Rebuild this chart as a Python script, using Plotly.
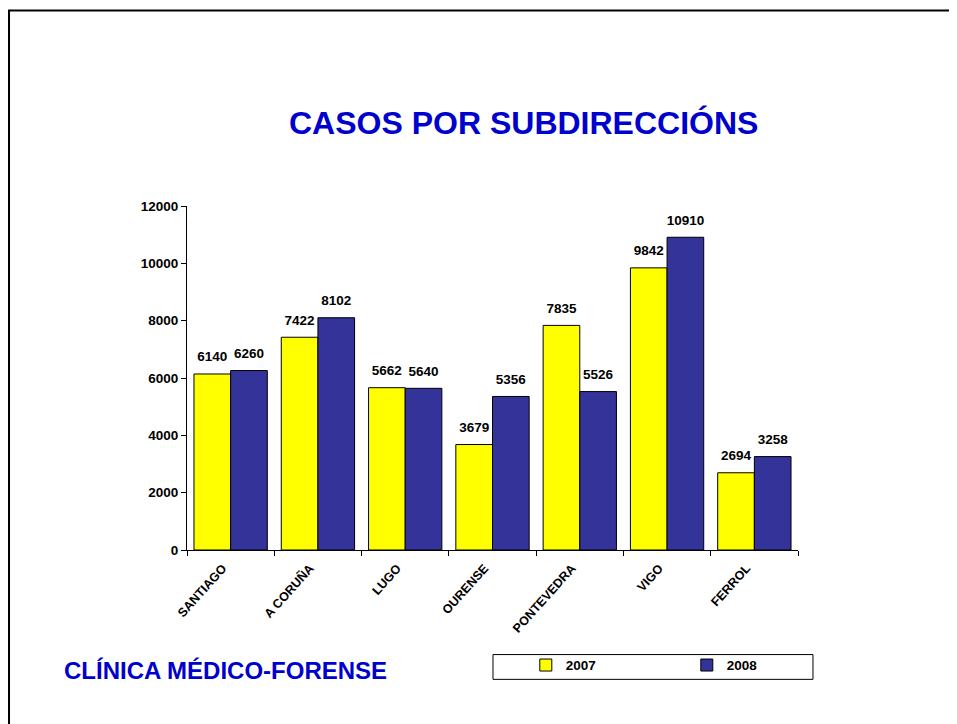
import plotly.graph_objects as go

# data
subdirecciones = ["SANTIAGO", "A CORUÑA", "LUGO", "OURENSE", "PONTEVEDRA", "VIGO", "FERROL"]
casos_2007 = [6140, 7422, 5662, 3679, 7835, 9842, 2694]
casos_2008 = [6260, 8102, 5640, 5356, 5526, 10910, 3258]
y_ticks = [0, 2000, 4000, 6000, 8000, 10000, 12000]

FONT = "Liberation Sans, Arial, sans-serif"
BLUE_TXT = "#0000CC"
BOLD13 = dict(family=FONT, size=13.5, color="black", weight="bold")

fig = go.Figure()
for name, vals, color in [("2007", casos_2007, "#FFFF00"), ("2008", casos_2008, "#333399")]:
    fig.add_trace(go.Bar(
        x=subdirecciones, y=vals, name=name, offsetgroup=name,
        marker=dict(color=color, line=dict(color="black", width=1)),
    ))
    # value labels: invisible markers push the text a bit above the bar top
    fig.add_trace(go.Scatter(
        x=subdirecciones, y=vals, offsetgroup=name, mode="markers+text",
        text=vals, textposition="top center", textfont=BOLD13,
        marker=dict(size=13, color="rgba(0,0,0,0)"),
        showlegend=False, hoverinfo="skip", cliponaxis=False,
    ))

# page body adds ~8px offset, so margins are shifted to compensate
fig.update_layout(
    width=957, height=724,
    margin=dict(l=179, r=167, t=198, b=182),
    paper_bgcolor="white", plot_bgcolor="white",
    barmode="group", bargap=0.16, bargroupgap=0,
    scattermode="group", scattergap=0.16,
    font=dict(family=FONT, color="black"),
    showlegend=True,
    legend=dict(
        orientation="h", x=0.5545, y=-0.290, xanchor="left", yanchor="top",
        borderwidth=0, bgcolor="rgba(0,0,0,0)",
        font=BOLD13, itemwidth=30, entrywidth=116,
    ),
    annotations=[
        dict(text="<b>CASOS POR SUBDIRECCIÓNS</b>", xref="paper", yref="paper",
             x=0.551, y=1.241, xanchor="center", yanchor="middle", showarrow=False,
             font=dict(family=FONT, size=32, color=BLUE_TXT)),
        dict(text="<b>CLÍNICA MÉDICO-FORENSE</b>", xref="paper", yref="paper",
             x=-0.2046, y=-0.349, xanchor="left", yanchor="middle", showarrow=False,
             font=dict(family=FONT, size=24, color=BLUE_TXT)),
    ],
    shapes=[
        # slide border (runs off the right and bottom of the window)
        dict(type="rect", xref="paper", yref="paper",
             x0=-0.2913, x1=1.5, y0=-0.7, y1=1.568,
             line=dict(color="black", width=2), layer="below"),
        # legend box
        dict(type="rect", xref="paper", yref="paper",
             x0=0.5008, x1=1.0245, y0=-0.376, y1=-0.304,
             line=dict(color="black", width=1), layer="below"),
    ],
)

fig.update_xaxes(
    showline=True, linecolor="black", linewidth=1,
    ticks="outside", ticklen=5, tickcolor="black", tickson="boundaries",
    tickangle=-48, ticklabelstandoff=5, ticklabelshift=-8,
    tickfont=dict(family=FONT, size=12.5, color="black", weight="bold"),
    showgrid=False,
)
fig.update_yaxes(
    range=[0, 12000], tickvals=y_ticks, tickformat="d",
    showline=True, linecolor="black", linewidth=1,
    ticks="outside", ticklen=5, tickcolor="black",
    tickfont=BOLD13, showgrid=False, zeroline=False,
)

fig.write_html("out.html")
